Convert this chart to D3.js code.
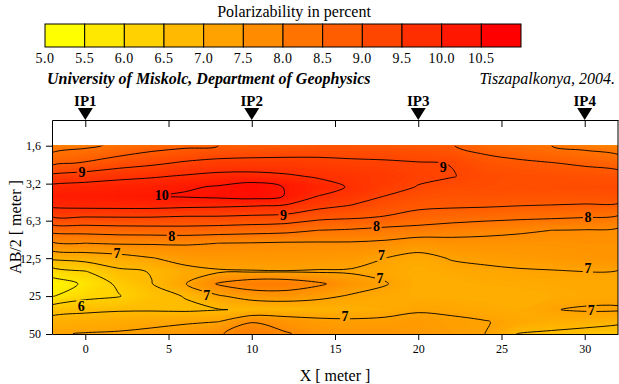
<!DOCTYPE html>
<html>
<head>
<meta charset="utf-8">
<script src="https://cdn.jsdelivr.net/npm/d3@7"></script>
<style>
  body { margin: 0; background: #fff; }
  svg { display: block; }
  svg text { font-family: "Liberation Serif", "Times New Roman", Times, "DejaVu Serif", serif; }
</style>
</head>
<body>
<svg id="chart" width="619" height="384"></svg>
<script>
// ============================================
// DATA
// ============================================

// profile positions along X [m] and AB/2 depths [m]
const xPositions = [-2, 0, 2, 4, 6, 8, 10, 12, 14, 16, 18, 20, 22, 24, 26, 28, 30, 32];
const depths = [1.6, 2.2, 2.8, 3.4, 4.0, 4.8, 6.0, 7.5, 9.5, 12.5, 16, 20, 25, 32, 40, 50];

// polarizability (%) for each depth, read along X
const ab1_6  = [7.75, 7.9, 8.1, 8.3, 8.4, 8.5, 8.55, 8.6, 8.7, 8.7, 8.65, 8.6, 8.52, 8.3, 8.15, 8.0, 7.85, 7.7];
const ab2_2  = [8.39, 8.55, 8.76, 8.91, 9.07, 9.17, 9.2, 9.2, 9.15, 9.1, 9.08, 9.03, 8.99, 8.7, 8.6, 8.52, 8.42, 8.3];
const ab2_8  = [9.14, 9.24, 9.37, 9.45, 9.55, 9.64, 9.65, 9.57, 9.45, 9.35, 9.25, 9.08, 9.02, 8.88, 8.83, 8.8, 8.75, 8.7];
const ab3_4  = [9.63, 9.7, 9.75, 9.8, 9.93, 10.05, 10.25, 9.98, 9.7, 9.45, 9.17, 8.98, 8.85, 8.85, 8.83, 8.85, 8.85, 8.9];
const ab4_0  = [9.85, 9.9, 9.95, 9.98, 10.06, 10.12, 10.2, 9.99, 9.5, 9.3, 9.0, 8.8, 8.72, 8.72, 8.7, 8.7, 8.72, 8.75];
const ab4_8  = [9.6, 9.64, 9.65, 9.65, 9.6, 9.57, 9.52, 9.45, 9.15, 8.97, 8.75, 8.6, 8.57, 8.55, 8.5, 8.48, 8.45, 8.43];
const ab6_0  = [8.94, 8.94, 8.95, 8.95, 8.9, 8.9, 8.85, 8.8, 8.6, 8.53, 8.45, 8.3, 8.19, 8.12, 8.07, 8.03, 7.98, 7.9];
const ab7_5  = [8.17, 8.2, 8.25, 8.27, 8.3, 8.25, 8.2, 8.15, 8.0, 7.95, 7.85, 7.8, 7.72, 7.65, 7.57, 7.5, 7.48, 7.42];
const ab9_5  = [7.44, 7.5, 7.55, 7.55, 7.55, 7.5, 7.48, 7.45, 7.45, 7.45, 7.4, 7.25, 7.32, 7.33, 7.33, 7.32, 7.35, 7.35];
const ab12_5 = [6.6, 6.7, 6.8, 6.98, 7.16, 7.22, 7.23, 7.25, 7.22, 7.17, 7.0, 6.85, 7.03, 7.1, 7.15, 7.2, 7.25, 7.3];
const ab16   = [5.75, 5.97, 6.4, 6.52, 6.85, 6.95, 6.97, 6.98, 6.96, 6.95, 6.9, 6.75, 6.85, 6.9, 6.95, 6.97, 7.0, 6.97];
const ab20   = [5.22, 5.58, 6.1, 6.49, 6.98, 7.55, 7.8, 7.8, 7.58, 7.25, 7.03, 6.75, 6.75, 6.8, 6.82, 6.85, 6.85, 6.85];
const ab25   = [5.47, 5.85, 5.97, 6.35, 6.52, 6.95, 7.2, 7.25, 7.12, 6.95, 6.85, 6.78, 6.75, 6.75, 6.75, 6.8, 6.85, 6.88];
const ab32   = [6.3, 6.4, 6.45, 6.45, 6.42, 6.48, 6.55, 6.6, 6.65, 6.7, 6.8, 6.95, 6.92, 6.85, 6.8, 6.98, 7.05, 7.05];
const ab40   = [6.7, 6.75, 6.8, 6.88, 6.95, 7.0, 7.48, 7.3, 7.15, 7.1, 7.12, 7.15, 7.08, 7.02, 6.9, 6.75, 6.7, 6.6];
const ab50   = [6.95, 7.03, 7.06, 7.12, 7.2, 7.45, 7.75, 7.55, 7.3, 7.25, 7.25, 7.2, 7.1, 7.0, 6.48, 6.4, 6.3, 6.2];
const grid = [ab1_6, ab2_2, ab2_8, ab3_4, ab4_0, ab4_8, ab6_0, ab7_5, ab9_5, ab12_5, ab16, ab20, ab25, ab32, ab40, ab50];

// colour scale legend
const legendValues = [5.0, 5.5, 6.0, 6.5, 7.0, 7.5, 8.0, 8.5, 9.0, 9.5, 10.0, 10.5];

// axis ticks
const xTicks = [0, 5, 10, 15, 20, 25, 30];
const yTicks = [1.6, 3.2, 6.3, 12.5, 25, 50];
const yTickLabels = ["1,6", "3,2", "6,3", "12,5", "25", "50"];

// electrode positions
const ipNames = ["IP1", "IP2", "IP3", "IP4"];
const ipX = [0, 10, 20, 30];

// contour labels: level, x [m], AB/2 [m]
const contourLabels = [
  { level: 9, x: -0.2, d: 2.59 },
  { level: 10, x: 4.6, d: 3.94 },
  { level: 9, x: 11.9, d: 5.68 },
  { level: 9, x: 21.5, d: 2.36 },
  { level: 8, x: 5.2, d: 8.33 },
  { level: 8, x: 17.5, d: 6.94 },
  { level: 8, x: 30.2, d: 5.89 },
  { level: 7, x: 1.9, d: 11.4 },
  { level: 7, x: 17.8, d: 11.8 },
  { level: 7, x: 7.3, d: 24.5 },
  { level: 7, x: 17.7, d: 18.0 },
  { level: 7, x: 30.2, d: 15.0 },
  { level: 7, x: 15.6, d: 36.0 },
  { level: 7, x: 30.4, d: 32.2 },
  { level: 6, x: -0.24, d: 30.0 }
];

// ============================================
// SCALES
// ============================================

const svg = d3.select('#chart');
const serif = '"Liberation Serif", "Times New Roman", Times, "DejaVu Serif", serif';

const xScale = d3.scaleLinear().domain([-2, 32]).range([52, 618]);
const yScale = d3.scaleLog().domain([1, 50]).range([120, 334]);

const colorScale = d3.scaleLinear()
  .domain([5, 10.5])
  .range(['#ffff00', '#ff0000'])
  .clamp(true);

// grid index -> pixel
const colPx = d3.scaleLinear().domain(d3.range(xPositions.length)).range(xPositions.map(xScale));
const rowPx = d3.scaleLinear().domain(d3.range(depths.length)).range(depths.map(yScale));

const nx = xPositions.length, ny = depths.length;
const values = grid.flat();

// contour geometry -> smoothed svg path
const ringLine = d3.line().curve(d3.curveCatmullRomClosed.alpha(0.5));
function contourPath(geom) {
  return geom.coordinates.map(poly =>
    poly.map(ring => ringLine(ring.slice(0, -1).map(([px, py]) => [colPx(px - 0.5), rowPx(py - 0.5)]))).join('')
  ).join('');
}

// ============================================
// LEGEND
// ============================================

const legX = d3.scaleLinear().domain([5, 11]).range([45, 521]);

svg.append('text')
  .attr('x', 294).attr('y', 17)
  .attr('text-anchor', 'middle')
  .style('font-size', '16px')
  .text('Polarizability in percent');

svg.append('g').selectAll('rect')
  .data(legendValues)
  .join('rect')
  .attr('x', d => legX(d))
  .attr('y', 24)
  .attr('width', d => legX(d + 0.5) - legX(d))
  .attr('height', 23)
  .attr('fill', d => colorScale(d))
  .attr('stroke', '#000')
  .attr('stroke-width', 1);

svg.append('g').selectAll('text')
  .data(legendValues)
  .join('text')
  .attr('x', d => legX(d))
  .attr('y', 63)
  .attr('text-anchor', 'middle')
  .style('font-size', '14px')
  .style('letter-spacing', '0.5px')
  .text(d => d.toFixed(1));

svg.append('text')
  .attr('x', 47).attr('y', 84)
  .style('font-size', '16px')
  .style('font-weight', 'bold')
  .style('font-style', 'italic')
  .text('University of Miskolc, Department of Geophysics');

svg.append('text')
  .attr('x', 615).attr('y', 84)
  .attr('text-anchor', 'end')
  .style('font-size', '16px')
  .style('font-style', 'italic')
  .text('Tiszapalkonya, 2004.');

// ============================================
// CONTOURS
// ============================================

const plotTop = yScale(1.6), plotBottom = yScale(50);

const defs = svg.append('defs');
defs.append('clipPath').attr('id', 'plotClip')
  .append('rect')
  .attr('x', 52).attr('y', plotTop)
  .attr('width', 566).attr('height', plotBottom - plotTop);

const mask = defs.append('mask').attr('id', 'labelMask')
  .attr('maskUnits', 'userSpaceOnUse')
  .attr('x', 0).attr('y', 0).attr('width', 619).attr('height', 384);
mask.append('rect').attr('width', 619).attr('height', 384).attr('fill', '#fff');
mask.selectAll('rect.gap')
  .data(contourLabels)
  .join('rect')
  .attr('class', 'gap')
  .attr('x', d => xScale(d.x) - (d.level >= 10 ? 9 : 5))
  .attr('y', d => yScale(d.d) - 6)
  .attr('width', d => d.level >= 10 ? 18 : 10)
  .attr('height', 12)
  .attr('fill', '#000');

const plot = svg.append('g').attr('clip-path', 'url(#plotClip)');

plot.append('rect')
  .attr('x', 52).attr('y', plotTop)
  .attr('width', 566).attr('height', plotBottom - plotTop)
  .attr('fill', colorScale(5));

const fillStep = 0.05;
const fillLevels = d3.range(5, 10.75, fillStep);
const bands = d3.contours().size([nx, ny]).thresholds(fillLevels)(values);

plot.append('g')
  .selectAll('path')
  .data(bands)
  .join('path')
  .attr('d', contourPath)
  .attr('fill', d => colorScale(d.value + fillStep / 2))
  .attr('stroke', d => colorScale(d.value + fillStep / 2))
  .attr('stroke-width', 0.4);

const lineLevels = d3.range(5.5, 11, 0.5);
const isolines = d3.contours().size([nx, ny]).thresholds(lineLevels)(values);

plot.append('g')
  .attr('mask', 'url(#labelMask)')
  .selectAll('path')
  .data(isolines)
  .join('path')
  .attr('d', contourPath)
  .attr('fill', 'none')
  .attr('stroke', '#000')
  .attr('stroke-width', 0.9);

plot.append('g').selectAll('text')
  .data(contourLabels)
  .join('text')
  .attr('x', d => xScale(d.x))
  .attr('y', d => yScale(d.d) + 5)
  .attr('text-anchor', 'middle')
  .style('font-size', '14px')
  .style('font-weight', 'bold')
  .text(d => d.level);

// ============================================
// AXES
// ============================================

const axisStyle = g => {
  g.attr('font-family', serif);
  g.selectAll('path, line').attr('stroke', '#000').attr('stroke-width', 1);
  g.selectAll('text').attr('fill', '#000');
};

// top frame line with ticks
svg.append('g')
  .attr('transform', 'translate(0,120)')
  .call(d3.axisBottom(xScale).tickValues(xTicks).tickSize(7).tickSizeOuter(0).tickFormat(''))
  .call(axisStyle);

// bottom axis
svg.append('g')
  .attr('transform', `translate(0,${plotBottom})`)
  .call(d3.axisBottom(xScale).tickValues(xTicks).tickSize(6).tickSizeOuter(0).tickPadding(4))
  .call(axisStyle)
  .call(g => g.selectAll('text').style('font-size', '12px'));

// left axis
svg.append('g')
  .attr('transform', 'translate(52,0)')
  .call(d3.axisLeft(yScale).tickValues(yTicks).tickSize(6).tickSizeOuter(0).tickPadding(5)
    .tickFormat((d, i) => yTickLabels[i]))
  .call(axisStyle)
  .call(g => g.selectAll('text').style('font-size', '12px'));

svg.append('line')
  .attr('x1', 618).attr('x2', 618).attr('y1', 120).attr('y2', plotBottom)
  .attr('stroke', '#000');

// axis titles
svg.append('text')
  .attr('x', 335).attr('y', 381)
  .attr('text-anchor', 'middle')
  .style('font-size', '16px')
  .text('X  [ meter ]');

svg.append('text')
  .attr('transform', `translate(21,${(120 + plotBottom) / 2}) rotate(-90)`)
  .attr('text-anchor', 'middle')
  .style('font-size', '16px')
  .text('AB/2  [ meter ]');

// ============================================
// ELECTRODE MARKERS
// ============================================

const ip = svg.append('g').selectAll('g')
  .data(ipNames)
  .join('g')
  .attr('transform', (d, i) => `translate(${xScale(ipX[i])},0)`);

ip.append('path')
  .attr('d', 'M-7.5,108 L7.5,108 L0,120 Z')
  .attr('fill', '#000');

ip.append('text')
  .attr('y', 106)
  .attr('text-anchor', 'middle')
  .style('font-size', '15px')
  .style('font-weight', 'bold')
  .text(d => d);
</script>
</body>
</html>
